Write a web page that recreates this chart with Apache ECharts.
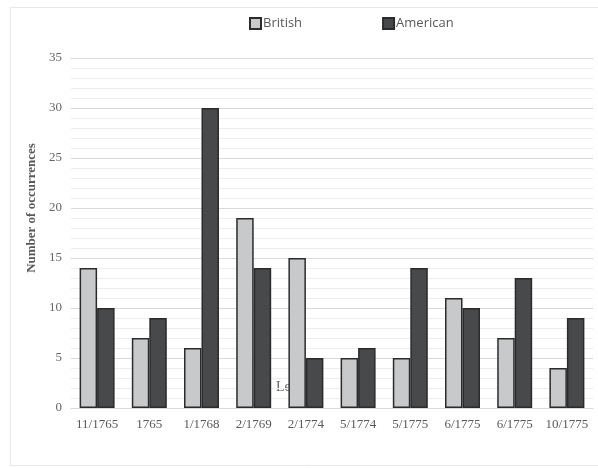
<!DOCTYPE html>
<html>
<head>
<meta charset="utf-8">
<script src="https://cdn.jsdelivr.net/npm/echarts@6/dist/echarts.min.js"></script>
<style>html,body{margin:0;padding:0;background:#fff}#c{width:598px;height:468px}</style>
</head>
<body>
<div id="c"></div>
<script>
const categories = ['11/1765','1765','1/1768','2/1769','2/1774','5/1774','5/1775','6/1775','6/1775','10/1775'];
const british = [14,7,6,19,15,5,5,11,7,4];
const american = [10,9,30,14,5,6,14,10,13,9];
const seriesNames = ['British','American'];
const yAxisTitle = 'Number of occurrences';

const chart = echarts.init(document.getElementById('c'), null, {renderer:'canvas'});
const serif = '"Liberation Serif", "DejaVu Serif", serif';
chart.setOption({
  animation:false,
  backgroundColor:'#fff',
  graphic:[
    {type:'rect', z:-10, shape:{x:10.5,y:7.5,width:600,height:458}, style:{fill:'none',stroke:'#e8e8e8',lineWidth:1}, silent:true},
    {type:'text', z:0, left:276, top:380, style:{text:'Le', font:'14px "Liberation Serif", serif', fill:'#666'}},
    {type:'text', x:32, y:208, rotation:Math.PI/2, style:{text:yAxisTitle, font:'bold 13px "Liberation Serif", serif', fill:'#595959', align:'center', verticalAlign:'middle'}}
  ],
  legend:{
    top:12, left:244, itemWidth:11, itemHeight:11, itemGap:80,
    icon:'rect',
    textStyle:{fontFamily:'"Open Sans", sans-serif', fontSize:13, color:'#595959', padding:[0,0,0,-3]},
    data:seriesNames
  },
  grid:{left:71, right:5, top:58, bottom:60, containLabel:false},
  xAxis:{
    type:'category', data:categories,
    axisLine:{show:true, lineStyle:{color:'#d9d9d9'}},
    axisTick:{show:false},
    axisLabel:{fontFamily:serif, fontSize:13, color:'#595959', margin:10, interval:0}
  },
  yAxis:{
    type:'value', min:0, max:35, interval:5,
    axisLine:{show:false}, axisTick:{show:false},
    axisLabel:{fontFamily:serif, fontSize:13, color:'#666', margin:9},
    splitLine:{lineStyle:{color:'#d9d9d9', width:1}},
    minorTick:{show:false, splitNumber:5},
    minorSplitLine:{show:true, lineStyle:{color:'#eeeeee', width:1}}
  },
  series:[
    {name:seriesNames[0], type:'bar', data:british, barGap:'0%', barCategoryGap:'33%', z:2,
     itemStyle:{color:'#c8c9cb', borderColor:'#2b2b2b', borderWidth:1.5}},
    {name:seriesNames[1], type:'bar', data:american, z:2,
     itemStyle:{color:'#48494b', borderColor:'#2b2b2b', borderWidth:1.5}}
  ]
});
</script>
</body>
</html>
